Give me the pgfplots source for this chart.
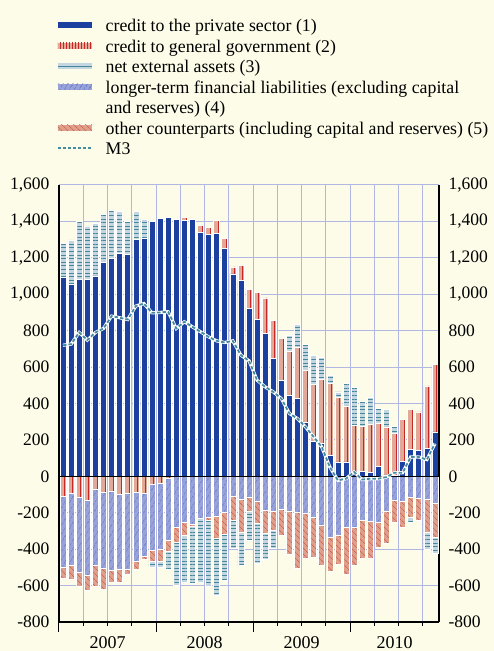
\documentclass[border=0pt]{standalone}
\usepackage{fontspec}
\setmainfont{Liberation Serif}
\usepackage{pgfplots}
\usepackage{pgfplotstable}
\pgfplotsset{compat=1.18}
\usetikzlibrary{patterns.meta}

\definecolor{bgc}{RGB}{253,252,232}
\definecolor{gridc}{RGB}{178,182,226}
\definecolor{c1}{RGB}{28,64,160}
\definecolor{c2f}{RGB}{226,168,152}
\definecolor{c2l}{RGB}{200,40,35}
\definecolor{c3f}{RGB}{196,214,224}
\definecolor{c3l}{RGB}{70,135,155}
\definecolor{c4f}{RGB}{152,162,218}
\definecolor{c4l}{RGB}{60,80,175}
\definecolor{c5f}{RGB}{222,160,140}
\definecolor{c5l}{RGB}{200,75,60}
\definecolor{m3c}{RGB}{70,140,160}

\pgfplotstableread{
m s1 s2p s2n s3p s3n s4 s5 m3
0 1092 0 -107 187 0 -392 -59 720
1 1056 0 -94 242 0 -396 -77 726
2 1081 0 -116 317 0 -410 -77 790
3 1081 0 -134 294 0 -410 -81 748
4 1101 0 -70 288 0 -418 -118 790
5 1173 0 -88 266 0 -418 -112 812
6 1197 0 -83 266 0 -432 -66 880
7 1224 0 -97 233 0 -414 -70 871
8 1217 0 -94 181 0 -414 -28 861
9 1303 0 -88 150 0 -379 -42 935
10 1307 0 -94 106 0 -346 -17 949
11 1398 0 -42 0 -33 -364 -61 898
12 1417 0 -37 0 -33 -361 -66 900
13 1420 0 -12 0 -97 -337 -64 904
14 1411 0 0 0 -236 -282 -79 812
15 1407 15 0 0 -258 -254 -70 849
16 1411 0 0 0 -313 -263 -10 821
17 1340 40 0 0 -350 -230 0 794
18 1329 37 0 0 -364 -226 -13 766
19 1334 70 0 0 -313 -217 -125 744
20 1253 55 0 0 -252 -195 -125 735
21 1112 38 0 0 -153 -110 -134 744
22 1076 82 0 0 -177 -125 -184 665
23 924 102 0 0 -160 -116 -74 635
24 863 149 0 0 -217 -138 -121 528
25 784 196 0 0 -138 -188 -127 491
26 647 211 0 0 -101 -193 -103 464
27 528 229 0 0 0 -180 -144 427
28 445 239 0 91 0 -193 -236 345
29 427 284 0 125 0 -195 -309 317
30 295 288 0 143 0 -204 -248 271
31 194 310 0 161 0 -226 -217 216
32 180 351 0 121 0 -267 -223 161
33 115 394 0 46 0 -333 -188 51
34 79 353 0 32 0 -322 -160 -22
35 79 308 0 122 0 -278 -261 -13
36 24 256 0 207 0 -282 -204 24
37 27 248 0 139 0 -241 -208 -18
38 20 266 0 150 0 -245 -204 -13
39 55 235 0 82 0 -254 -138 -13
40 8 263 0 96 0 -190 -177 -4
41 5 230 0 40 0 -129 -121 20
42 84 228 0 0 0 -136 -145 20
43 147 220 0 0 -24 -116 -110 106
44 143 211 0 0 0 -121 -120 106
45 152 345 0 0 -94 -125 -184 92
46 244 370 0 0 -88 -147 -190 180
}\data

\tikzset{
  t1/.style={fill=c1, draw=white, line width=0.6pt},
  t2/.style={fill=c2f, draw=white, line width=0.6pt, postaction={pattern={Lines[angle=90,distance=8.085pt,line width=0.9pt]}, pattern color=c2l}},
  t3/.style={fill=c3f, draw=white, line width=0.6pt, postaction={pattern={Lines[angle=0,distance=3.6pt,line width=0.8pt]}, pattern color=c3l}},
  t4/.style={fill=c4f, draw=white, line width=0.6pt, postaction={pattern={Lines[angle=60,distance=4pt,line width=0.5pt]}, pattern color=c4l}},
  t5/.style={fill=c5f, draw=white, line width=0.6pt, postaction={pattern={Lines[angle=-45,distance=4pt,line width=0.5pt]}, pattern color=c5l}},
}

\pgfplotsset{
  base/.style={
    scale only axis, width=380pt, height=437pt,
    xmin=-0.5, xmax=46.5, ymin=-800, ymax=1600,
    at={(0pt,0pt)}, anchor=south west,
    /pgf/number format/1000 sep={,},
    /pgf/number format/assume math mode=true,
  },
}

\begin{document}
\begin{tikzpicture}
\fill[bgc] (-59pt,-29pt) rectangle (435pt,622pt);
\useasboundingbox (-59pt,-29pt) rectangle (435pt,622pt);

% Axis A: grid, left labels, positive stack, legend
\begin{axis}[base,
  ybar stacked, bar width=6pt,
  axis x line*=bottom, axis y line*=left,
  axis line style={black, line width=1.1pt},
  xtick={-0.5,11.5,23.5,35.5}, xticklabels={,,,},
  minor xtick={2.5,5.5,8.5,14.5,17.5,20.5,26.5,29.5,32.5,38.5,41.5,44.5},
  extra x ticks={5.5,17.5,29.5,41},
  extra x tick labels={2007,2008,2009,2010},
  extra x tick style={grid=none, major tick length=0pt},
  tick align=outside, major tick length=10pt, minor tick length=4pt,
  xtick style={black, line width=1pt},
  xmajorgrids, xminorgrids, ymajorgrids,
  major grid style={gridc, line width=1pt},
  minor grid style={gridc, line width=1pt},
  ytick={-800,-600,...,1600},
  ytick style={draw=none},
  yticklabel style={font=\fontsize{17.5}{20}\selectfont, anchor=east, xshift=4pt},
  xticklabel style={font=\fontsize{18}{20}\selectfont, yshift=-11pt},
  legend style={at={(-0.0053,1.3853)}, anchor=north west, draw=none, fill=none,
    inner sep=0pt, column sep=13pt, row sep=4.1pt,
    nodes={inner sep=0pt},
    font=\fontsize{17.8}{21.3}\selectfont},
  legend cell align=left,
]
\addlegendimage{legend image code/.code={\path[fill=c1, draw=none] (0pt,-3pt) rectangle (34pt,3pt);}}
\addlegendentry{\strut credit to the private sector (1)}
\addlegendimage{legend image code/.code={\path[fill=c2f, draw=none] (0pt,-3pt) rectangle (34pt,3pt);
  \path[draw=none, pattern={Lines[angle=90,distance=3pt,line width=0.8pt]}, pattern color=c2l] (0pt,-3pt) rectangle (34pt,3pt);}}
\addlegendentry{\strut credit to general government (2)}
\addlegendimage{legend image code/.code={\path[fill=c3f, draw=none] (0pt,-3pt) rectangle (34pt,3pt);
  \draw[c3l, line width=1pt] (0pt,0pt) -- (34pt,0pt);}}
\addlegendentry{\strut net external assets (3)}
\addlegendimage{legend image code/.code={\path[fill=c4f, draw=none] (0pt,-3pt) rectangle (34pt,3pt);
  \path[draw=none, pattern={Lines[angle=60,distance=4pt,line width=0.6pt]}, pattern color=c4l] (0pt,-3pt) rectangle (34pt,3pt);}}
\addlegendentry{\strut longer-term financial liabilities (excluding capital}
\addlegendimage{empty legend}
\addlegendentry{\strut and reserves) (4)}
\addlegendimage{legend image code/.code={\path[fill=c5f, draw=none] (0pt,-3pt) rectangle (34pt,3pt);
  \path[draw=none, pattern={Lines[angle=-45,distance=4pt,line width=0.6pt]}, pattern color=c5l] (0pt,-3pt) rectangle (34pt,3pt);}}
\addlegendentry{\strut other counterparts (including capital and reserves) (5)}
\addlegendimage{legend image code/.code={\draw[m3c, line width=1.5pt, dash pattern=on 3pt off 2pt] (0pt,0pt) -- (34pt,0pt);}}
\addlegendentry{\strut M3}

\addplot[t1] table[x=m,y=s1]{\data};
\addplot[t2] table[x=m,y=s2p]{\data};
\addplot[t3] table[x=m,y=s3p]{\data};
\end{axis}

% Axis B: negative stack, right labels, right axis line
\begin{axis}[base,
  ybar stacked, bar width=6pt,
  axis y line*=right, axis x line=none,
  axis line style={black, line width=1.1pt},
  ytick={-800,-600,...,1600},
  ytick style={draw=none},
  yticklabel style={font=\fontsize{17.5}{20}\selectfont, anchor=west, xshift=6pt},
]
\addplot[t2] table[x=m,y=s2n]{\data};
\addplot[t4] table[x=m,y=s4]{\data};
\addplot[t5] table[x=m,y=s5]{\data};
\addplot[t3] table[x=m,y=s3n]{\data};
\end{axis}

% Axis C: zero line and M3
\begin{axis}[base, hide axis]
\addplot[black, line width=1.3pt, no marks] coordinates {(-0.5,0) (46.5,0)};
\addplot[white, line width=3.2pt, no marks] table[x=m,y=m3]{\data};
\addplot[m3c, line width=1.8pt, dash pattern=on 3.5pt off 2pt, no marks] table[x=m,y=m3]{\data};
\end{axis}
\end{tikzpicture}
\end{document}
